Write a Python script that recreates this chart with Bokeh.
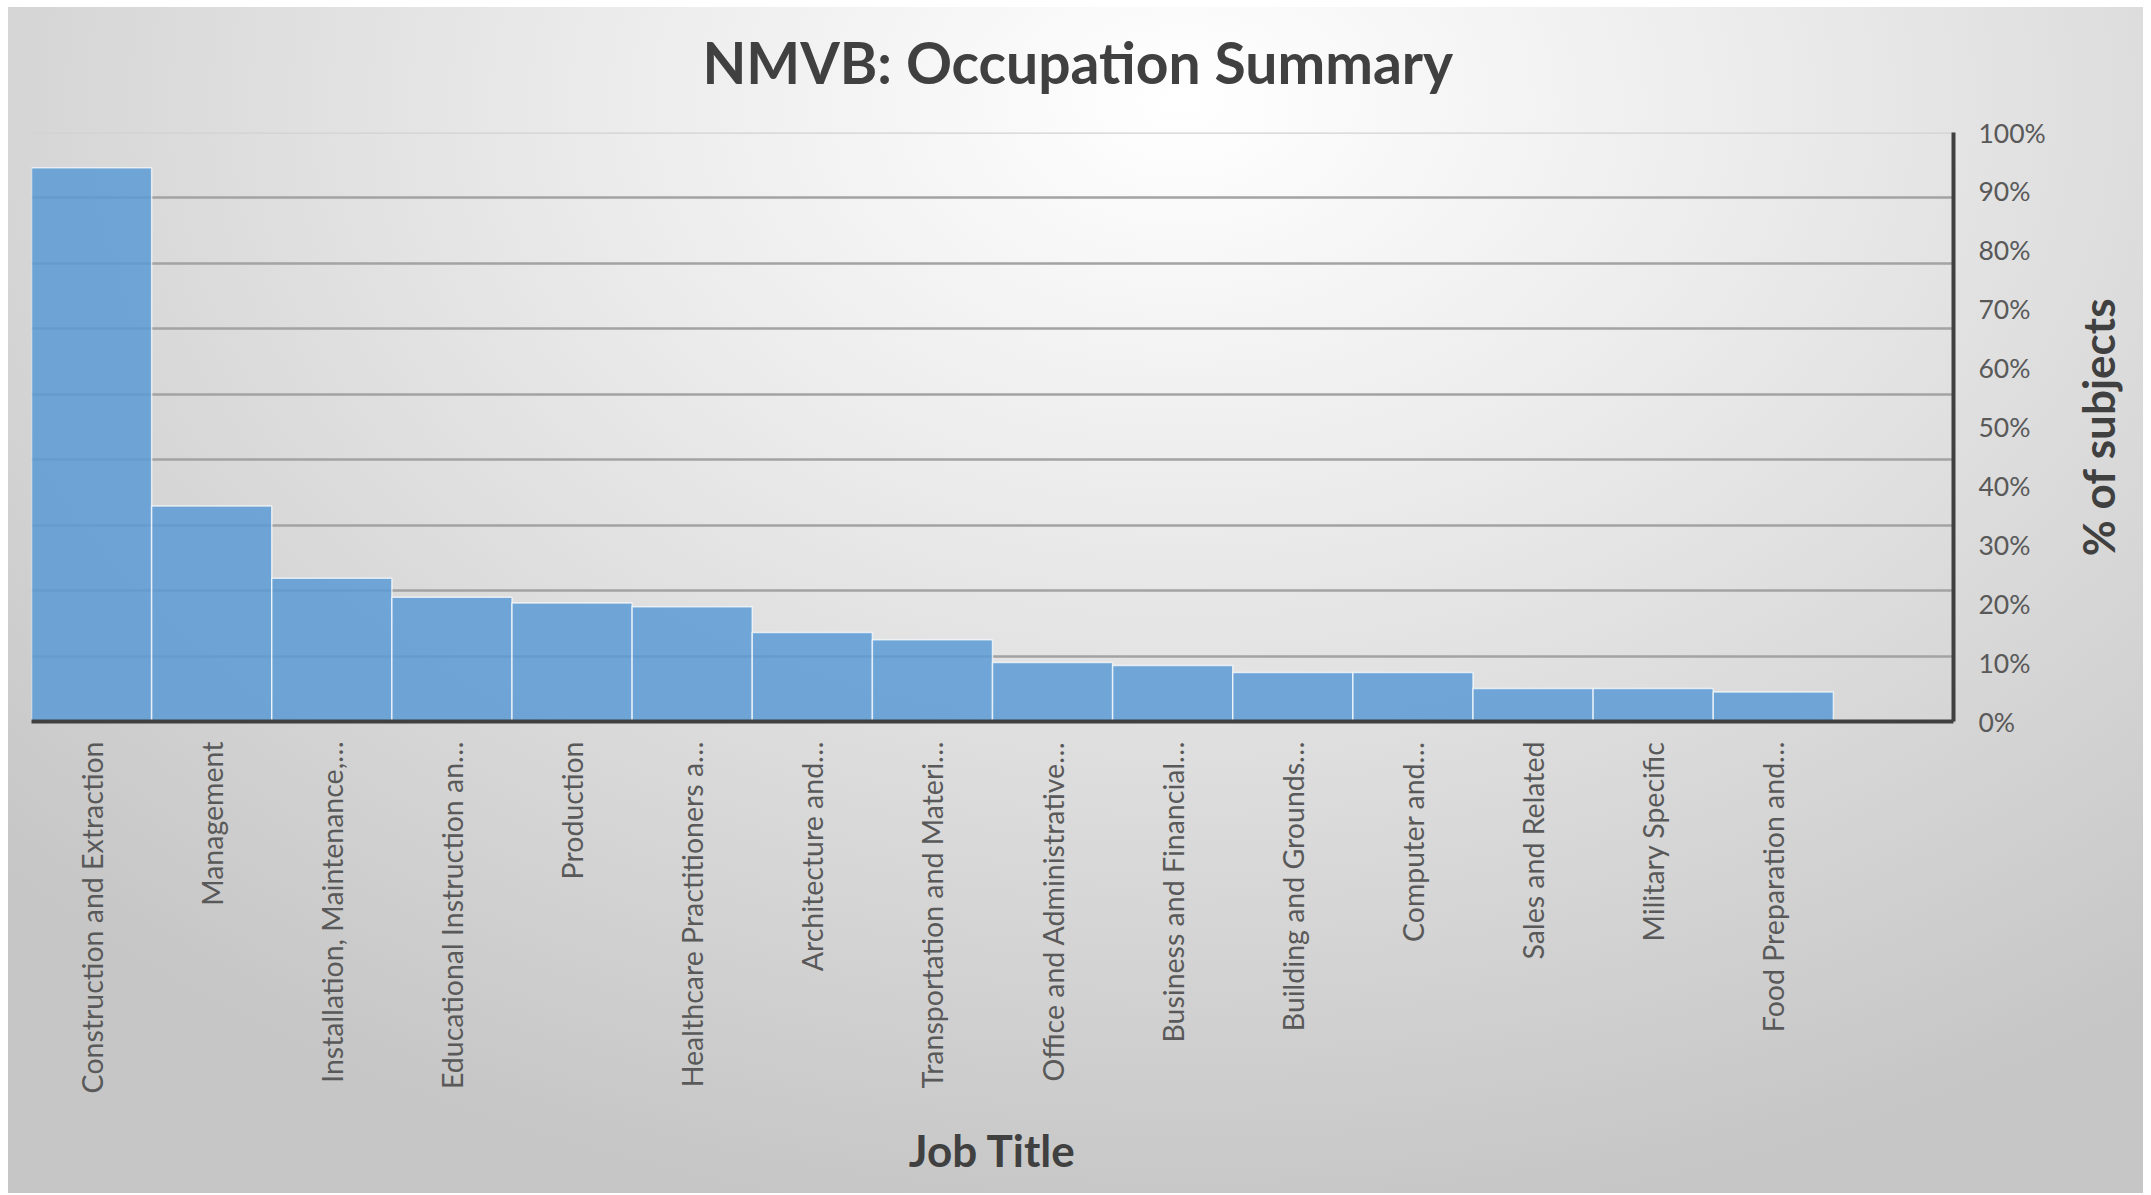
from math import pi
from bokeh.plotting import figure
from bokeh.models import (FactorRange, Range1d, Grid, SingleIntervalTicker, FixedTicker,
                          PrintfTickFormatter, Label, ColumnDataSource)
from bokeh.embed import file_html
from bokeh.resources import INLINE

title_text = "NMVB: Occupation Summary"
x_title = "Job Title"
y_title = "% of subjects"

categories = [
    "Construction and Extraction",
    "Management",
    "Installation, Maintenance,\u2026",
    "Educational Instruction an\u2026",
    "Production",
    "Healthcare Practitioners a\u2026",
    "Architecture and\u2026",
    "Transportation and Materi\u2026",
    "Office and Administrative\u2026",
    "Business and Financial\u2026",
    "Building and Grounds\u2026",
    "Computer and\u2026",
    "Sales and Related",
    "Military Specific",
    "Food Preparation and\u2026",
]
values = [94.0, 36.6, 24.3, 21.1, 20.1, 19.5, 15.1, 13.9, 10.0, 9.5, 8.3, 8.3, 5.6, 5.6, 5.0]
empty_slot = [" "]
y_ticks = [0, 10, 20, 30, 40, 50, 60, 70, 80, 90, 100]
grid_divisions = 9

W, H = 2143, 1193
p = figure(width=W, height=H,
           x_range=FactorRange(factors=categories + empty_slot),
           y_range=Range1d(0, 100),
           y_axis_location="right",
           output_backend="svg", toolbar_location=None,
           min_border_left=31, min_border_right=190,
           min_border_top=132, min_border_bottom=472)

p.background_fill_color = None
p.border_fill_color = None
p.outline_line_color = None
p.styles = {
    "background-image": "radial-gradient(ellipse 75% 95% at 55% 8%, #ffffff 0%, #ececec 35%, #dadada 65%, #c6c6c6 100%)",
    "background-position": "8px 7px",
    "background-size": "2135px 1186px",
    "background-repeat": "no-repeat",
}

p.xgrid.visible = False
p.ygrid.visible = False
p.extra_y_ranges = {"grid": Range1d(0, grid_divisions)}
g = Grid(dimension=1, ticker=SingleIntervalTicker(interval=1), y_range_name="grid",
         grid_line_color="#a3a3a3", grid_line_width=2.5)
p.add_layout(g)
g_top = Grid(dimension=1, ticker=FixedTicker(ticks=[grid_divisions - 0.001]), y_range_name="grid",
             grid_line_color="#d2d2d2", grid_line_width=2.5)
p.add_layout(g_top)

src = ColumnDataSource(dict(cat=categories, val=values))
p.vbar(x="cat", top="val", width=1.0, source=src,
       fill_color="#5b9bd5", fill_alpha=0.85,
       line_color="white", line_alpha=0.7, line_width=1.5)

xa = p.xaxis[0]
xa.axis_line_color = "#404040"
xa.axis_line_width = 4
xa.major_tick_line_color = None
xa.minor_tick_line_color = None
xa.major_tick_out = 0
xa.major_tick_in = 0
xa.major_label_orientation = pi / 2
xa.major_label_text_font = "Lato"
xa.major_label_text_font_size = "28.5px"
xa.major_label_text_color = "#595959"
xa.major_label_standoff = 20
xa.axis_label = x_title
xa.axis_label_text_font = "Lato"
xa.axis_label_text_font_style = "bold"
xa.axis_label_text_font_size = "44px"
xa.axis_label_text_color = "#404040"
xa.axis_label_standoff = 28

ya = p.yaxis[0]
ya.ticker = FixedTicker(ticks=y_ticks)
ya.formatter = PrintfTickFormatter(format="%d%%")
ya.axis_line_color = "#404040"
ya.axis_line_width = 4
ya.major_tick_line_color = None
ya.minor_tick_line_color = None
ya.major_tick_out = 0
ya.major_tick_in = 0
ya.major_label_text_font = "Lato"
ya.major_label_text_font_size = "26.5px"
ya.major_label_text_color = "#595959"
ya.major_label_standoff = 25

p.add_layout(Label(x=8.71, y=112.0, text=title_text, text_align="center",
                   text_baseline="middle", text_font="Lato", text_font_style="bold",
                   text_font_size="57px", text_color="#404040"), "above")
p.add_layout(Label(x=17.2, y=50, text=y_title, angle=pi / 2, text_align="center",
                   text_baseline="middle", text_font="Lato", text_font_style="bold",
                   text_font_size="44px", text_color="#404040"), "right")

open("out.html", "w").write(file_html(p, INLINE))
